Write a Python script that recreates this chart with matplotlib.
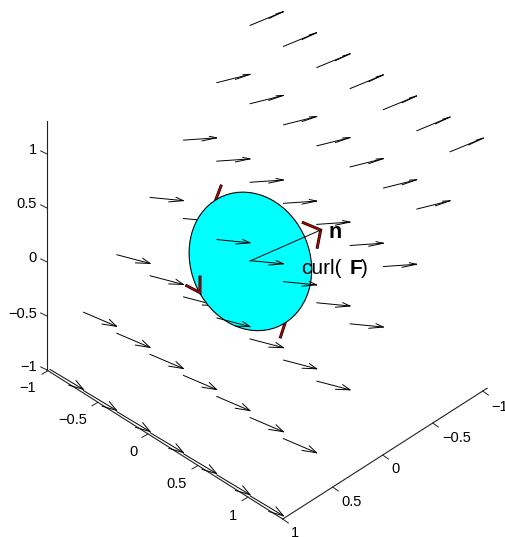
import numpy as np
import matplotlib as mpl

mpl.use('Agg')
import matplotlib.pyplot as plt
from matplotlib.patches import Ellipse

plt.rcParams['font.family'] = ['Liberation Sans', 'DejaVu Sans']

# axis limits of the box that is drawn
x_lim = [-1.013, 1.347]
y_lim = [-1.044, 1.0]
z_lim = [-1.0, 1.303]

# tick values
ticks = [-1, -0.5, 0, 0.5, 1]
tick_labels = ['\u22121', '\u22120.5', '0', '0.5', '1']

# tick label anchors in the view plane
z_label_pos = [(36.5, 367), (37, 314), (36.5, 258), (37, 204), (36.5, 150)]
x_label_pos = [(28, 388), (72.7, 420), (133, 451.7), (177, 484), (233.3, 516)]
y_label_pos = [(500, 406.7), (456.7, 438), (395, 469), (351.7, 501.7), (295, 533)]

# field grid, plane z = -y
grid_x = [-1.0, -0.667, -0.333, 0.0, 0.333, 0.667, 1.0]
grid_y = [0.98, 0.647, 0.313, -0.02, -0.353, -0.687, -1.02]
grid_z = [-1.0, -0.667, -0.333, 0.0, 0.333, 0.667, 1.0]

# field components, w changes per row only
field_u = 0.333
field_v = 0.0
field_w = [0.01, 0.063, 0.114, 0.165, 0.216, 0.272, 0.322]

# arrows that sit in front of the disc (row, column), the two are the hidden ones
front = [(3, 2), (3, 3), (3, 4), (2, 3), (4, 3)]
behind = [(3, 1), (2, 2)]

# disc outline in the view plane
disc_center = (250.4, 261.4)
disc_major = 141.6
disc_minor = 119.0
disc_angle = 67.5

# normal vector and the red strokes
normal_line = [(250.0, 261.0), (320.7, 230.0)]
red_front = [
    [(303.3, 222.7), (320.7, 230.0), (317.3, 247.3)],
    [(186.7, 285.7), (200.0, 292.7), (200.0, 277.0)],
]
red_behind = [
    [(221.0, 186.0), (215.7, 200.0)],
    [(285.0, 323.3), (280.5, 337.0)],
]


def proj(x, y, z):
    sx = 248.0 + 100.0 * x - 100.0 * y
    sy = 261.9 + 63.2 * x + 64.0 * y - 108.0 * z
    return sx, sy


def draw_arrow(ax, x, y, z, u, v, w, zorder):
    # same head construction as matlab quiver3
    alpha = 0.33
    beta = 0.33
    head = (x + u, y + v, z + w)
    barb1 = (x + u - alpha * (u + beta * v), y + v - alpha * (v - beta * u), z + w - alpha * w)
    barb2 = (x + u - alpha * (u - beta * v), y + v - alpha * (v + beta * u), z + w - alpha * w)
    for a, b in [((x, y, z), head), (barb1, head), (barb2, head)]:
        p0 = proj(*a)
        p1 = proj(*b)
        ax.plot([p0[0], p1[0]], [p0[1], p1[1]], color='black', lw=0.7, zorder=zorder,
                solid_capstyle='round')


def draw_red(ax, pts, zorder):
    xs = [p[0] for p in pts]
    ys = [p[1] for p in pts]
    ax.plot(xs, ys, color='black', lw=2.1, zorder=zorder, solid_joinstyle='miter')
    ax.plot(xs, ys, color='#b00000', lw=1.2, zorder=zorder + 0.1, solid_joinstyle='miter')


fig = plt.figure(figsize=(5.05, 5.37), dpi=100)
ax = fig.add_axes([0, 0, 1, 1])
ax.set_xlim(0, 505)
ax.set_ylim(537, 0)
ax.axis('off')

# box edges
for a, b in [((x_lim[0], y_lim[1], z_lim[0]), (x_lim[0], y_lim[1], z_lim[1])),
             ((x_lim[0], y_lim[1], z_lim[0]), (x_lim[1], y_lim[1], z_lim[0])),
             ((x_lim[1], y_lim[1], z_lim[0]), (x_lim[1], y_lim[0], z_lim[0]))]:
    p0 = proj(*a)
    p1 = proj(*b)
    ax.plot([p0[0], p1[0]], [p0[1], p1[1]], color='#222222', lw=0.8, zorder=1)

# tick stubs
for t, lab, zp, xp, yp in zip(ticks, tick_labels, z_label_pos, x_label_pos, y_label_pos):
    p = proj(x_lim[0], y_lim[1], t)
    ax.plot([p[0], p[0] - 6], [p[1], p[1] - 3], color='#222222', lw=0.7, zorder=1)
    p = proj(t, y_lim[1], z_lim[0])
    ax.plot([p[0], p[0] - 6], [p[1], p[1] + 3.5], color='#222222', lw=0.7, zorder=1)
    p = proj(x_lim[1], t, z_lim[0])
    ax.plot([p[0], p[0] + 5.7], [p[1], p[1] + 4], color='#222222', lw=0.7, zorder=1)

    ax.text(zp[0], zp[1], lab, ha='right', va='center', fontsize=10.5)
    ax.text(xp[0], xp[1], lab, ha='center', va='center', fontsize=10.5)
    ax.text(yp[0], yp[1], lab, ha='center', va='center', fontsize=10.5, clip_on=False)

# field arrows
for j in range(7):
    for i in range(7):
        if (j, i) in behind:
            order = 2
        elif (j, i) in front:
            order = 6
        else:
            order = 3
        draw_arrow(ax, grid_x[i], grid_y[j], grid_z[j], field_u, field_v, field_w[j], order)

for pts in red_behind:
    draw_red(ax, pts, 3)

disc = Ellipse(disc_center, disc_major, disc_minor, angle=disc_angle,
               facecolor='#00ffff', edgecolor='black', lw=0.8, zorder=4)
ax.add_patch(disc)

for pts in red_front:
    draw_red(ax, pts, 7)
ax.plot([normal_line[0][0], normal_line[1][0]], [normal_line[0][1], normal_line[1][1]],
        color='black', lw=0.7, zorder=8)

ax.text(328, 238, 'n', fontsize=15.5, fontweight='bold', ha='left', va='baseline', zorder=9)
ax.text(301.5, 274.3, 'curl(', fontsize=15, ha='left', va='baseline', zorder=9)
ax.text(349.5, 274.3, 'F', fontsize=15, fontweight='bold', ha='left', va='baseline', zorder=9)
ax.text(361, 274.3, ')', fontsize=15, ha='left', va='baseline', zorder=9)

plt.savefig('out.png', dpi=100)
